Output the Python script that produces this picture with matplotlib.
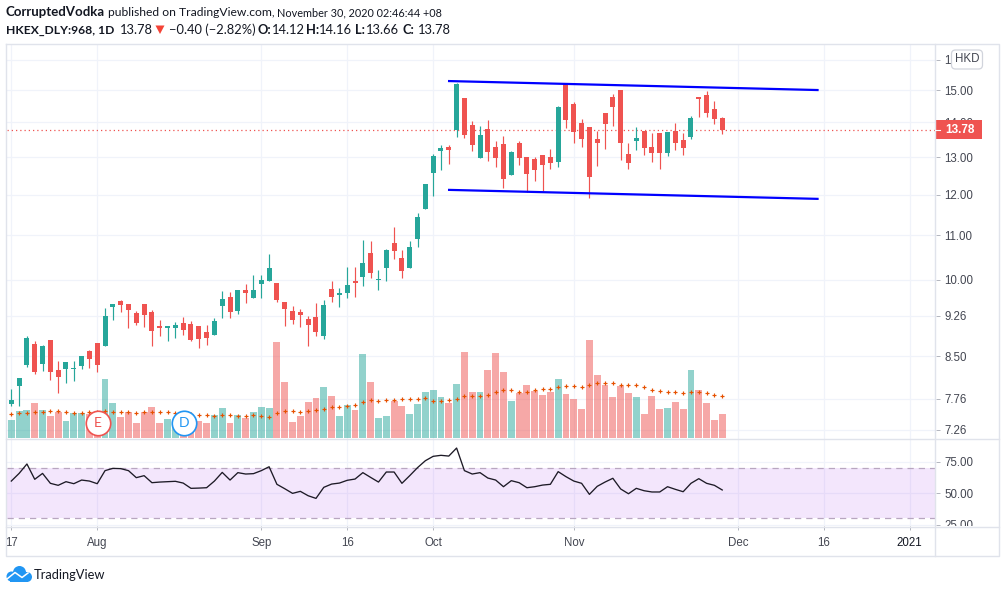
import numpy as np
import matplotlib
matplotlib.use('Agg')
import matplotlib.pyplot as plt
from matplotlib.patches import Circle, Polygon, Rectangle, FancyBboxPatch
from matplotlib.ticker import NullLocator
from matplotlib.transforms import Bbox

W, H = 1006, 592

# Daily bars, 17 Jul to 27 Nov 2020
open_ = [7.67, 7.97, 8.34, 8.72, 8.36, 8.79, 8.25, 8.27, 8.27, 8.32, 8.59, 8.74, 8.68, 9.44, 9.56, 9.50,
         9.32, 9.50, 9.34, 9.06, 9.02, 9.02, 9.12, 9.10, 9.06, 8.94, 8.89, 9.46, 9.64, 9.36, 9.79, 9.62,
         9.91, 9.98, 9.94, 9.54, 9.36, 9.34, 9.20, 9.24, 8.87, 9.81, 9.68, 9.72, 9.98, 10.06, 10.59, 10.00,
         10.25, 10.82, 10.47, 10.25, 10.91, 11.63, 12.57, 13.17, 13.28, 13.77, 14.75, 13.92, 12.97, 13.80,
         13.28, 13.37, 12.51, 13.40, 13.00, 12.95, 13.06, 13.00, 12.86, 15.19, 14.56, 13.98, 13.86, 13.51,
         14.28, 14.78, 15.00, 13.09, 13.45, 13.74, 13.28, 13.68, 13.11, 13.74, 13.48, 13.57, 14.78, 14.84,
         14.40, 14.12]
high = [7.93, 8.11, 8.87, 8.77, 8.70, 8.79, 8.41, 8.39, 8.41, 8.50, 8.61, 8.74, 9.42, 9.50, 9.58, 9.50,
        9.36, 9.50, 9.38, 9.18, 9.06, 9.14, 9.24, 9.16, 9.06, 9.08, 9.22, 9.77, 9.75, 9.79, 9.91, 10.10,
        10.10, 10.56, 9.94, 9.54, 9.46, 9.40, 9.26, 9.52, 9.58, 9.98, 9.83, 10.27, 10.27, 10.89, 10.86, 10.21,
        10.68, 11.20, 10.66, 10.86, 11.54, 12.27, 13.09, 13.34, 13.34, 15.22, 14.75, 14.04, 13.89, 14.07,
        13.45, 13.60, 13.17, 13.45, 13.00, 13.00, 13.06, 13.23, 14.50, 15.19, 14.62, 14.10, 13.86, 13.74,
        14.28, 14.87, 15.00, 13.40, 13.86, 13.74, 13.68, 13.68, 13.71, 13.98, 13.68, 14.19, 14.78, 14.97,
        14.65, 14.16]
low = [7.64, 7.64, 8.30, 8.18, 8.23, 8.07, 7.85, 8.02, 8.06, 8.27, 8.28, 8.21, 8.68, 9.18, 9.34, 9.02,
       9.08, 9.04, 8.68, 8.87, 8.77, 8.83, 8.89, 8.77, 8.64, 8.70, 8.89, 9.22, 9.22, 9.30, 9.52, 9.62,
       9.62, 9.98, 9.54, 9.06, 9.10, 9.04, 8.68, 8.87, 8.81, 9.54, 9.44, 9.62, 9.64, 9.87, 10.04, 9.79,
       9.98, 10.45, 10.04, 10.25, 10.73, 11.63, 11.96, 12.64, 12.81, 13.57, 13.54, 13.17, 12.97, 12.89,
       12.72, 12.17, 12.51, 12.78, 12.07, 12.35, 12.09, 12.67, 12.72, 13.83, 13.40, 13.28, 11.91, 12.75,
       13.23, 13.89, 12.92, 12.67, 13.20, 13.06, 12.86, 12.67, 13.03, 13.20, 13.06, 13.51, 14.16, 14.16,
       13.95, 13.66]
close = [7.74, 8.11, 8.83, 8.21, 8.68, 8.21, 8.13, 8.39, 8.28, 8.50, 8.45, 8.34, 9.26, 9.50, 9.48, 9.38,
         9.12, 9.28, 8.96, 9.02, 9.06, 9.08, 8.98, 8.79, 8.81, 8.83, 9.16, 9.60, 9.34, 9.79, 9.72, 9.79,
         10.00, 10.25, 9.58, 9.40, 9.18, 9.28, 9.08, 8.94, 9.48, 9.64, 9.72, 9.89, 9.94, 10.36, 10.14, 10.02,
         10.66, 10.63, 10.19, 10.73, 11.44, 12.27, 13.03, 13.25, 13.20, 15.19, 13.63, 13.34, 13.63, 13.14,
         12.97, 12.40, 13.14, 12.97, 12.53, 12.64, 12.78, 12.83, 14.47, 14.07, 13.71, 13.51, 12.45, 13.40,
         13.95, 14.47, 13.40, 12.83, 13.54, 13.25, 13.11, 13.11, 13.71, 13.40, 13.25, 14.13, 14.71, 14.28,
         14.10, 13.78]

volume = [18, 27, 28, 35, 28, 22, 26, 17, 25, 25, 24, 24, 59, 35, 21, 26, 15, 26, 31, 15, 19, 18, 14, 14,
          17, 15, 23, 30, 15, 23, 20, 26, 31, 30, 96, 56, 16, 22, 36, 40, 51, 42, 22, 33, 28, 84, 56, 20,
          22, 37, 32, 24, 34, 46, 48, 41, 35, 54, 86, 46, 46, 68, 85, 66, 37, 45, 53, 47, 43, 46, 59, 44,
          39, 29, 98, 63, 53, 41, 52, 45, 41, 24, 42, 29, 30, 36, 29, 68, 48, 35, 18, 24]
volume_ma = [24, 25, 25, 26, 26, 27, 27, 26, 25, 25, 26, 26, 27, 26, 26, 26, 25, 26, 26, 26, 26, 25, 25, 24,
             23, 23, 22, 23, 23, 22, 22, 23, 22, 21, 25, 27, 27, 26, 27, 28, 29, 31, 31, 32, 33, 36, 38, 37,
             38, 38, 39, 39, 39, 40, 37, 37, 38, 39, 42, 42, 42, 43, 46, 48, 48, 46, 46, 48, 49, 49, 51, 52,
             52, 51, 53, 55, 55, 55, 53, 53, 53, 51, 48, 47, 46, 46, 45, 46, 46, 45, 43, 42]
rsi = [59.8, 65.9, 73.4, 61.2, 65.9, 58.0, 56.4, 59.3, 57.7, 60.6, 59.8, 57.7, 68.1, 69.9, 69.7, 68.1,
       62.5, 64.1, 58.5, 59.0, 59.3, 59.6, 58.2, 54.0, 54.2, 54.5, 59.8, 66.7, 60.6, 66.5, 65.4, 65.7,
       68.1, 71.2, 57.2, 53.7, 50.0, 51.6, 48.1, 46.0, 54.8, 57.4, 58.2, 60.4, 61.4, 66.5, 62.7, 59.0,
       67.0, 67.0, 58.0, 64.1, 70.5, 76.0, 79.5, 80.3, 79.7, 86.1, 68.1, 65.4, 66.5, 62.2, 60.6, 55.3,
       60.1, 58.5, 54.5, 55.3, 56.6, 57.2, 67.3, 63.3, 59.8, 58.0, 49.2, 55.6, 59.0, 62.0, 53.5, 49.7,
       54.0, 52.1, 51.1, 51.1, 55.3, 53.2, 51.3, 58.0, 61.7, 58.0, 56.4, 52.7]

# Drawn channel: bar index and price at each end
channel_x = [56.04, 103.2]
channel_upper = [15.29, 15.00]
channel_lower = [12.12, 11.89]

price_ticks = [16, 15, 14, 13, 12, 11, 10, 9.26, 8.5, 7.76, 7.26]
price_labels = ['16.00', '15.00', '14.00', '13.00', '12.00', '11.00', '10.00', '9.26', '8.50', '7.76', '7.26']
rsi_ticks = [75, 50, 25]
rsi_labels = ['75.00', '50.00', '25.00']
date_ticks = [0, 11, 32, 43, 54, 72, 93, 104, 115]
date_labels = ['17', 'Aug', 'Sep', '16', 'Oct', 'Nov', 'Dec', '16', '2021']
earnings_bar = 11
dividend_bar = 22

UP = '#26a69a'
DOWN = '#ef5350'
GRID = '#f0f3fa'
FRAME = '#e0e3eb'
TEXT = '#131722'
AXIS_TEXT = '#434651'
AXIS_FONT = 'Liberation Sans'
HEAD_FONT = 'Lato'


def pane(x0, y0, x1, y1):
    # pixel box, top-left origin, to a figure rectangle
    return [x0 / W, 1 - y1 / H, (x1 - x0) / W, (y1 - y0) / H]


def style_ticks(axis, ticks, labels):
    axis.set_yticks(ticks)
    axis.set_yticklabels(labels, fontsize=8.3, color=AXIS_TEXT, family=AXIS_FONT)
    axis.yaxis.set_minor_locator(NullLocator())
    axis.yaxis.tick_right()
    axis.tick_params(axis='y', length=3.2, width=0.7, color='#b2b5be', pad=3)
    for label in axis.get_yticklabels():
        label.set_clip_on(True)
        # axis text stops at the bottom of the pane
        label.set_clip_box(Bbox.from_extents(0, H - 526, W, H))


fig = plt.figure(figsize=(W / 100, H / 100), dpi=100, facecolor='white')

ax = fig.add_axes(pane(6.5, 43.5, 935.5, 438.5))
ax_rsi = fig.add_axes(pane(6.5, 438.5, 935.5, 526))
x = np.arange(len(close))
open_arr, high_arr, low_arr, close_arr = map(np.array, (open_, high, low, close))
colors = [UP if c >= o else DOWN for o, c in zip(open_, close)]

# Candles on a log price scale
ax.set_yscale('log')
ax.set_xlim(-0.615, 118.3)
ax.set_ylim(7.128, 16.567)
ax.vlines(x, low_arr, high_arr, colors=colors, lw=0.85, zorder=3)
ax.bar(x, np.maximum(np.abs(close_arr - open_arr), 0.015), bottom=np.minimum(open_arr, close_arr),
       width=0.64, color=colors, zorder=4)

ax.axhline(close[-1], color=DOWN, lw=0.9, ls=(0, (1, 2.4)), zorder=2)
ax.plot(channel_x, channel_upper, color='#0000ff', lw=1.6, zorder=5)
ax.plot(channel_x, channel_lower, color='#0000ff', lw=1.6, zorder=5)

style_ticks(ax, price_ticks, price_labels)
ax.set_xticks(date_ticks)
ax.tick_params(axis='x', length=0, labelbottom=False)
ax.grid(True, color=GRID, lw=0.9)
ax.set_axisbelow(True)
for s in ax.spines.values():
    s.set_visible(False)

# Volume and its average share the price pane
ax_vol = ax.twinx()
ax_vol.set_ylim(0, 395)
ax_vol.yaxis.set_visible(False)
ax.yaxis.tick_right()
ax_vol.bar(x, volume, width=0.88, color=colors, alpha=0.5)
ax_vol.scatter(x, volume_ma, marker='+', s=7, lw=0.85, color='#e65100', zorder=3)
for s in ax_vol.spines.values():
    s.set_visible(False)

# Earnings and dividend flags
for bar, letter, col in [(earnings_bar, 'E', DOWN), (dividend_bar, 'D', '#2196f3')]:
    ax_vol.scatter([bar + 0.05], [15.5], s=310, facecolor='white', edgecolor=col, lw=1.2, zorder=5)
    ax_vol.text(bar + 0.05, 15.5, letter, color=col, fontsize=10, family=HEAD_FONT,
                ha='center', va='center', zorder=6)

# RSI pane
ax_rsi.set_xlim(-0.615, 118.3)
ax_rsi.set_ylim(24.0, 93.7)
ax_rsi.axhspan(30, 70, color='#910feb', alpha=0.1, lw=0, zorder=1)
ax_rsi.axhline(70, color='#b8a6c0', lw=0.9, ls=(0, (5, 4)), zorder=2)
ax_rsi.axhline(30, color='#b8a6c0', lw=0.9, ls=(0, (5, 4)), zorder=2)
ax_rsi.plot(x, rsi, color='#1d1a26', lw=0.95, zorder=3)
style_ticks(ax_rsi, rsi_ticks, rsi_labels)
ax_rsi.set_xticks(date_ticks)
ax_rsi.set_xticklabels(date_labels, fontsize=8.3, color=AXIS_TEXT, family=AXIS_FONT)
ax_rsi.get_xticklabels()[-1].set_color(TEXT)
ax_rsi.tick_params(axis='x', length=3, width=0.7, color='#b2b5be', pad=5)
ax_rsi.grid(True, color=GRID, lw=0.9)
ax_rsi.set_axisbelow(True)
for s in ax_rsi.spines.values():
    s.set_visible(False)

# Everything around the panes, in pixel coordinates
chrome = fig.add_axes([0, 0, 1, 1], zorder=10)
chrome.set_xlim(0, W)
chrome.set_ylim(H, 0)
chrome.axis('off')
chrome.patch.set_visible(False)

chrome.plot([6.5, 999.5, 999.5, 6.5, 6.5], [43.5, 43.5, 555.5, 555.5, 43.5], color=FRAME, lw=1.0)
chrome.plot([935.5, 935.5], [43.5, 555.5], color=FRAME, lw=1.0)
chrome.plot([6.5, 999.5], [438.5, 438.5], color=FRAME, lw=1.0)
chrome.plot([6.5, 999.5], [526.5, 526.5], color=FRAME, lw=1.0)

# Last price tag sits on the close
tag_y = H - ax.transData.transform((0, close[-1]))[1]
chrome.add_patch(Rectangle((935.5, tag_y - 9.5), 46.5, 19, facecolor=DOWN, edgecolor='none'))
chrome.plot([935.5, 940], [tag_y, tag_y], color='white', lw=0.8)
chrome.text(959.5, tag_y + 0.3, f'{close[-1]:.2f}', color='white', fontsize=8.5, fontweight='bold',
            family=AXIS_FONT, ha='center', va='center')

chrome.add_patch(FancyBboxPatch((954, 52.5), 26, 14, boxstyle='round,pad=2.5,rounding_size=4',
                                facecolor='white', edgecolor='#d1d4dc', lw=0.9))
chrome.text(967, 59.5, 'HKD', color=AXIS_TEXT, fontsize=8.3, family=AXIS_FONT, ha='center', va='center')


def head(px, py, s, bold=False, size=9.3):
    chrome.text(px, py, s, color=TEXT, fontsize=size, family=HEAD_FONT,
                fontweight='bold' if bold else 'normal', ha='left', va='baseline')


head(6, 16.5, 'CorruptedVodka', bold=True, size=9.5)
head(108, 16.5, 'published on TradingView.com,', size=8.7)
head(277, 16.5, 'November 30, 2020 02:46:44 +08', size=7.8)
head(6, 33.5, 'HKEX_DLY:968, 1D', bold=True, size=8.7)
head(120, 33.5, f'{close[-1]:.2f}')
chrome.add_patch(Polygon([[155.5, 25.5], [164.5, 25.5], [160, 34]], facecolor='#f44336', edgecolor='none'))
head(169, 33.5, '\u22120.40 (\u22122.82%)')
head(258, 33.5, 'O:', bold=True)
head(272, 33.5, f'{open_[-1]:.2f}')
head(306, 33.5, 'H:', bold=True)
head(319, 33.5, f'{high[-1]:.2f}')
head(355, 33.5, 'L:', bold=True)
head(366, 33.5, f'{low[-1]:.2f}')
head(403, 33.5, 'C:', bold=True)
head(418, 33.5, f'{close[-1]:.2f}')

# TradingView cloud and wordmark
for cx, cy, r in [(11.5, 576.5, 5), (19.5, 572.5, 6.5), (27, 577, 5)]:
    chrome.add_patch(Circle((cx, cy), r, facecolor='#2196f3', edgecolor='none'))
chrome.add_patch(Rectangle((10, 575), 18, 7, facecolor='#2196f3', edgecolor='none'))
chrome.plot([7, 15, 22, 28], [579, 572.5, 577.5, 573], color='white', lw=1.1)
head(34, 579, 'TradingView')

fig.savefig('out.png', dpi=100)
plt.close(fig)
